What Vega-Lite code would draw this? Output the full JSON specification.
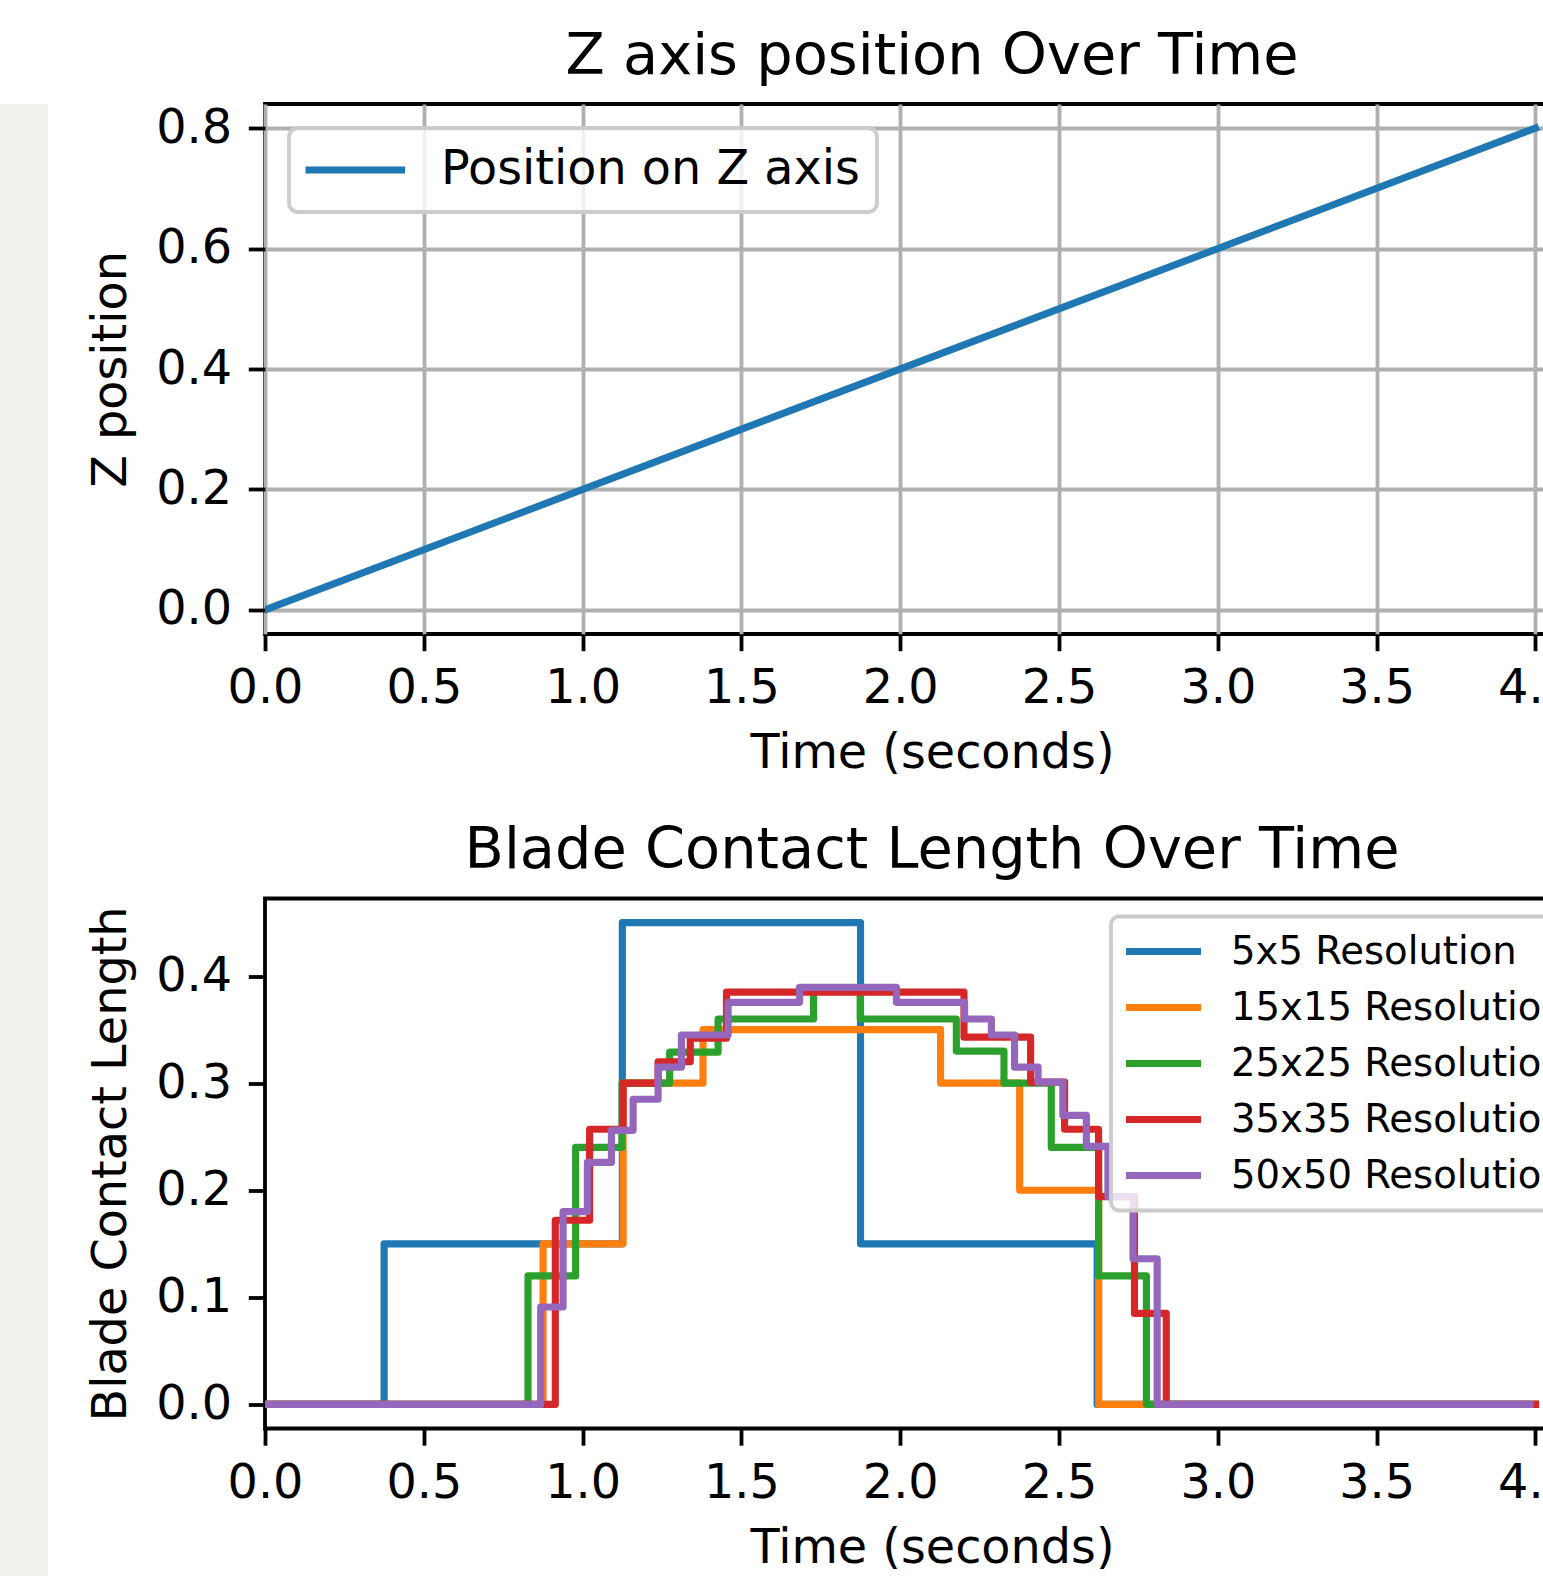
{
  "$schema": "https://vega.github.io/schema/vega-lite/v6.json",
  "padding": {"top": 25, "left": 0, "right": 0, "bottom": 0},
  "background": "white",
  "config": {
    "font": "DejaVu Sans",
    "view": {"stroke": "black", "strokeWidth": 3.8},
    "axis": {
      "domain": false,
      "tickColor": "black",
      "tickWidth": 3.8,
      "tickSize": 16.7,
      "labelFont": "DejaVu Sans",
      "labelFontSize": 47.7,
      "labelColor": "black",
      "labelPadding": 16.7,
      "labelFlush": false,
      "labelOverlap": false,
      "labelBound": false,
      "titleFont": "DejaVu Sans",
      "titleFontSize": 47.7,
      "titleFontWeight": "normal",
      "titleColor": "black",
      "titlePadding": 20,
      "gridColor": "#b0b0b0",
      "gridWidth": 3.8,
      "gridOpacity": 1
    },
    "title": {"font": "DejaVu Sans", "fontSize": 57.4, "fontWeight": "normal", "color": "black", "frame": "group", "anchor": "middle", "baseline": "alphabetic", "offset": 18},
    "legend": {"strokeWidth": 3.8, "labelFont": "DejaVu Sans", "labelColor": "black", "labelLimit": 0, "symbolType": "stroke"}
  },
  "spacing": 37,
  "hconcat": [
    {
      "width": 48,
      "height": 1576,
      "view": {"stroke": null, "fill": "#f1f0ec"},
      "data": {"values": [{"band": "margin"}]},
      "mark": {"type": "rect", "color": "#f1f0ec"},
      "encoding": {}
    },
    {
      "spacing": 39.5,
      "resolve": {"scale": {"color": "independent"}, "legend": {"color": "independent"}},
      "vconcat": [
        {
          "width": 1334,
          "height": 530,
          "title": {"text": "Z axis position Over Time"},
          "data": {"values": [
            {"t": 0, "z": 0, "series": "Position on Z axis"},
            {"t": 4.0, "z": 0.8, "series": "Position on Z axis"}
          ]},
          "mark": {"type": "line", "strokeWidth": 7.15, "clip": true, "strokeCap": "square", "strokeJoin": "round"},
          "encoding": {
            "x": {"field": "t", "type": "quantitative",
              "scale": {"domain": [0, 4.2], "nice": false, "zero": false},
              "axis": {"values": [0, 0.5, 1, 1.5, 2, 2.5, 3, 3.5, 4], "format": ".1f", "title": "Time (seconds)", "grid": true, "labelPadding": 14.2, "titlePadding": 17}},
            "y": {"field": "z", "type": "quantitative",
              "scale": {"domain": [-0.04, 0.84], "nice": false, "zero": false},
              "axis": {"values": [0, 0.2, 0.4, 0.6, 0.8], "format": ".1f", "title": "Z position", "grid": true, "titlePadding": 20}},
            "color": {"field": "series", "type": "nominal",
              "scale": {"domain": ["Position on Z axis"], "range": ["#1f77b4"]},
              "legend": {"title": null, "orient": "top-left", "offset": 24, "padding": 16.5, "fillColor": "rgba(255,255,255,0.8)", "strokeColor": "#cccccc", "cornerRadius": 9, "symbolSize": 10000, "symbolOffset": -4.5, "symbolStrokeWidth": 7.15, "labelFontSize": 47.7, "labelOffset": 32, "clipHeight": 51}}
          }
        },
        {
          "width": 1334,
          "height": 530,
          "title": {"text": "Blade Contact Length Over Time"},
          "data": {"values": [
            {"t": 0, "len": 0, "res": "5x5 Resolution"},
            {"t": 0.375, "len": 0.15, "res": "5x5 Resolution"},
            {"t": 1.125, "len": 0.45, "res": "5x5 Resolution"},
            {"t": 1.875, "len": 0.15, "res": "5x5 Resolution"},
            {"t": 2.62, "len": 0, "res": "5x5 Resolution"},
            {"t": 4.0, "len": 0, "res": "5x5 Resolution"},

            {"t": 0, "len": 0, "res": "15x15 Resolution"},
            {"t": 0.8755, "len": 0.15, "res": "15x15 Resolution"},
            {"t": 1.1275, "len": 0.30, "res": "15x15 Resolution"},
            {"t": 1.379, "len": 0.35, "res": "15x15 Resolution"},
            {"t": 2.127, "len": 0.30, "res": "15x15 Resolution"},
            {"t": 2.376, "len": 0.20, "res": "15x15 Resolution"},
            {"t": 2.625, "len": 0, "res": "15x15 Resolution"},
            {"t": 4.0, "len": 0, "res": "15x15 Resolution"},

            {"t": 0, "len": 0, "res": "25x25 Resolution"},
            {"t": 0.828, "len": 0.12, "res": "25x25 Resolution"},
            {"t": 0.978, "len": 0.24, "res": "25x25 Resolution"},
            {"t": 1.124, "len": 0.30, "res": "25x25 Resolution"},
            {"t": 1.274, "len": 0.329, "res": "25x25 Resolution"},
            {"t": 1.4265, "len": 0.36, "res": "25x25 Resolution"},
            {"t": 1.727, "len": 0.386, "res": "25x25 Resolution"},
            {"t": 1.874, "len": 0.36, "res": "25x25 Resolution"},
            {"t": 2.1766, "len": 0.33, "res": "25x25 Resolution"},
            {"t": 2.3266, "len": 0.30, "res": "25x25 Resolution"},
            {"t": 2.4756, "len": 0.24, "res": "25x25 Resolution"},
            {"t": 2.6245, "len": 0.12, "res": "25x25 Resolution"},
            {"t": 2.775, "len": 0, "res": "25x25 Resolution"},
            {"t": 4.0, "len": 0, "res": "25x25 Resolution"},

            {"t": 0, "len": 0, "res": "35x35 Resolution"},
            {"t": 0.914, "len": 0.172, "res": "35x35 Resolution"},
            {"t": 1.022, "len": 0.257, "res": "35x35 Resolution"},
            {"t": 1.1275, "len": 0.30, "res": "35x35 Resolution"},
            {"t": 1.2376, "len": 0.32, "res": "35x35 Resolution"},
            {"t": 1.339, "len": 0.342, "res": "35x35 Resolution"},
            {"t": 1.453, "len": 0.385, "res": "35x35 Resolution"},
            {"t": 2.2007, "len": 0.343, "res": "35x35 Resolution"},
            {"t": 2.4105, "len": 0.301, "res": "35x35 Resolution"},
            {"t": 2.5175, "len": 0.257, "res": "35x35 Resolution"},
            {"t": 2.6245, "len": 0.194, "res": "35x35 Resolution"},
            {"t": 2.7375, "len": 0.085, "res": "35x35 Resolution"},
            {"t": 2.8376, "len": 0, "res": "35x35 Resolution"},
            {"t": 4.0, "len": 0, "res": "35x35 Resolution"},

            {"t": 0, "len": 0, "res": "50x50 Resolution"},
            {"t": 0.868, "len": 0.091, "res": "50x50 Resolution"},
            {"t": 0.9385, "len": 0.18, "res": "50x50 Resolution"},
            {"t": 1.015, "len": 0.226, "res": "50x50 Resolution"},
            {"t": 1.0907, "len": 0.256, "res": "50x50 Resolution"},
            {"t": 1.159, "len": 0.285, "res": "50x50 Resolution"},
            {"t": 1.2376, "len": 0.315, "res": "50x50 Resolution"},
            {"t": 1.311, "len": 0.345, "res": "50x50 Resolution"},
            {"t": 1.458, "len": 0.3755, "res": "50x50 Resolution"},
            {"t": 1.683, "len": 0.3895, "res": "50x50 Resolution"},
            {"t": 1.988, "len": 0.3755, "res": "50x50 Resolution"},
            {"t": 2.2027, "len": 0.36, "res": "50x50 Resolution"},
            {"t": 2.287, "len": 0.345, "res": "50x50 Resolution"},
            {"t": 2.36, "len": 0.315, "res": "50x50 Resolution"},
            {"t": 2.434, "len": 0.301, "res": "50x50 Resolution"},
            {"t": 2.512, "len": 0.27, "res": "50x50 Resolution"},
            {"t": 2.586, "len": 0.241, "res": "50x50 Resolution"},
            {"t": 2.654, "len": 0.194, "res": "50x50 Resolution"},
            {"t": 2.733, "len": 0.136, "res": "50x50 Resolution"},
            {"t": 2.809, "len": 0, "res": "50x50 Resolution"},
            {"t": 3.983, "len": 0, "res": "50x50 Resolution"}
          ]},
          "mark": {"type": "line", "strokeWidth": 7.15, "clip": true, "interpolate": "step-after", "strokeCap": "square", "strokeJoin": "round"},
          "encoding": {
            "x": {"field": "t", "type": "quantitative",
              "scale": {"domain": [0, 4.2], "nice": false, "zero": false},
              "axis": {"values": [0, 0.5, 1, 1.5, 2, 2.5, 3, 3.5, 4], "format": ".1f", "title": "Time (seconds)", "grid": false, "labelPadding": 14.2, "titlePadding": 17}},
            "y": {"field": "len", "type": "quantitative",
              "scale": {"domain": [-0.0225, 0.4725], "nice": false, "zero": false},
              "axis": {"values": [0, 0.1, 0.2, 0.3, 0.4], "format": ".1f", "title": "Blade Contact Length", "grid": false, "titlePadding": 20}},
            "color": {"field": "res", "type": "nominal",
              "scale": {"domain": ["5x5 Resolution", "15x15 Resolution", "25x25 Resolution", "35x35 Resolution", "50x50 Resolution"], "range": ["#1f77b4", "#ff7f0e", "#2ca02c", "#d62728", "#9467bd"]},
              "legend": {"title": null, "orient": "top-right", "offset": 18, "padding": 15, "fillColor": "rgba(255,255,255,0.8)", "strokeColor": "#cccccc", "cornerRadius": 8, "symbolSize": 6724, "symbolOffset": -11, "symbolStrokeWidth": 7.15, "labelFontSize": 38.6, "labelOffset": 26, "clipHeight": 40, "rowPadding": 16}}
          }
        }
      ]
    }
  ]
}
